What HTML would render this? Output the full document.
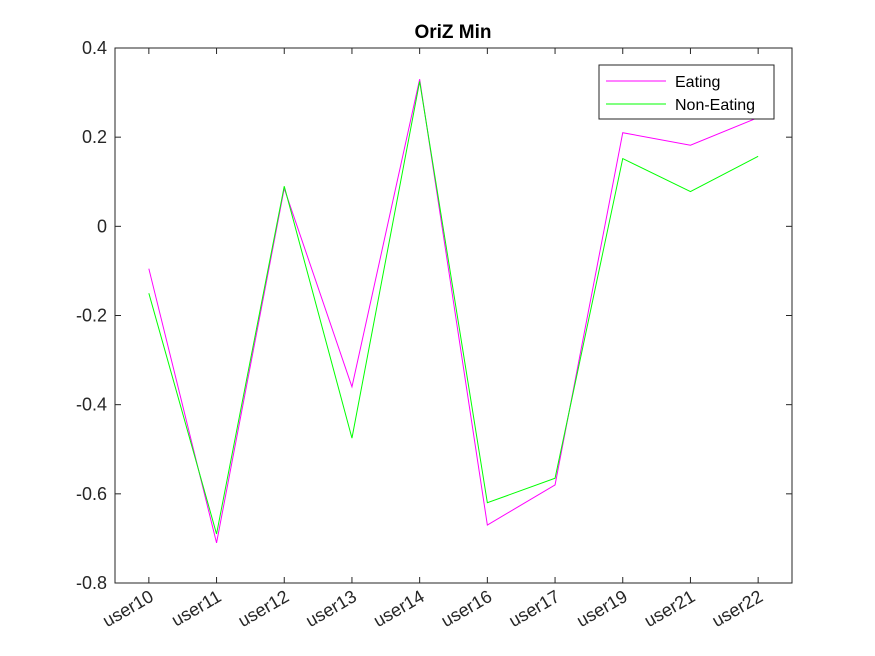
<!DOCTYPE html>
<html><head><meta charset="utf-8"><style>
body{margin:0;background:#fff;}
svg{display:block;font-family:"Liberation Sans",Arial,sans-serif;}
</style></head><body>
<svg id="chart" width="875" height="656">
<rect width="875" height="656" fill="#fff"/>
<text x="453" y="38" text-anchor="middle" font-size="19" font-weight="bold" fill="#000">OriZ Min</text>
<rect x="115" y="48" width="677" height="535" fill="#fff" stroke="#262626" stroke-width="1"/>
<g id="yticks"></g>
<g id="xticks"></g>
<g id="series"></g>
<g>
<rect x="599" y="65" width="175" height="54" fill="#fff" stroke="#262626" stroke-width="1"/>
<line x1="606" y1="81" x2="666" y2="81" stroke="#ff00ff" stroke-width="1"/>
<text x="675" y="87" font-size="16" fill="#000">Eating</text>
<line x1="606" y1="104" x2="666" y2="104" stroke="#00ff00" stroke-width="1"/>
<text x="675" y="110" font-size="16" fill="#000">Non-Eating</text>
</g>
</svg>
<script>
const categories=["user10","user11","user12","user13","user14","user16","user17","user19","user21","user22"];
const eating=[-0.095,-0.71,0.085,-0.36,0.33,-0.67,-0.58,0.21,0.182,0.244];
const nonEating=[-0.15,-0.69,0.09,-0.475,0.325,-0.62,-0.565,0.152,0.078,0.157];
const yTicks=[-0.8,-0.6,-0.4,-0.2,0,0.2,0.4];
const yTickLabels=["-0.8","-0.6","-0.4","-0.2","0","0.2","0.4"];
const L=115,R=792,T=48,B=583;
const NS="http://www.w3.org/2000/svg";
function x(i){return L+(i+0.5)*(R-L)/categories.length;}
function y(v){return B-(v+0.8)/1.2*(B-T);}
function mk(tag,attrs,parent){const e=document.createElementNS(NS,tag);for(const k in attrs)e.setAttribute(k,attrs[k]);parent.appendChild(e);return e;}
const yg=document.getElementById('yticks');
yTicks.forEach((v,i)=>{
 const t=mk('line',{x1:L,x2:L+6,y1:y(v),y2:y(v),stroke:'#262626'},yg);
 
 
 const t2=mk('line',{x1:R,x2:R-6,y1:y(v),y2:y(v),stroke:'#262626'},yg);
 
 
 const lb=mk('text',{x:L-8,y:y(v)+6,'text-anchor':'end','font-size':'18',fill:'#262626'},yg);
 lb.textContent=yTickLabels[i];
 
 
});
const xg=document.getElementById('xticks');
categories.forEach((c,i)=>{
 const t=mk('line',{x1:x(i),x2:x(i),y1:B,y2:B-6,stroke:'#262626'},xg);
 
 
 const t2=mk('line',{x1:x(i),x2:x(i),y1:T,y2:T+6,stroke:'#262626'},xg);
 
 
 const lb=mk('text',{x:x(i)+6,y:B+17,'text-anchor':'end','font-size':'18',fill:'#262626',transform:`rotate(-30 ${x(i)+6} ${B+17})`},xg);
 lb.textContent=c;
 
 
});
const sg=document.getElementById('series');
function line(vals,color,name){
 const p=mk('polyline',{points:vals.map((v,i)=>x(i)+','+y(v)).join(' '),fill:'none',stroke:color,'stroke-width':'1'},sg);
 
 
}
line(eating,'#ff00ff','eating-line');
line(nonEating,'#00ff00','non-eating-line');
</script>
</body></html>
